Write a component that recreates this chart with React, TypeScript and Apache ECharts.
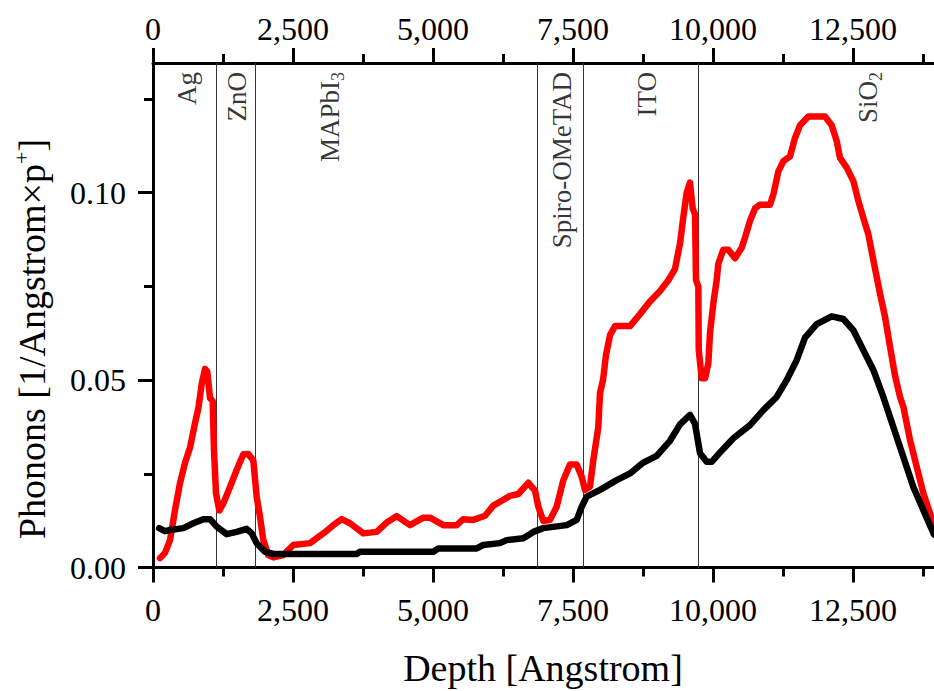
import React, { useEffect, useRef } from "react";
import * as echarts from "echarts";

// ---- axis extents & ticks ----
const X_MAX = 13946;
const Y_MAX = 0.1346;
const xMajorTicks = [0, 2500, 5000, 7500, 10000, 12500];
const xMinorTicks = [1250, 3750, 6250, 8750, 11250, 13750];
const yMajorTicks = [0, 0.05, 0.1];
const yMinorTicks = [0.025, 0.075, 0.125];

// ---- layer boundaries (Angstrom) ----
const boundaries = [1125, 1827, 6863, 7684, 9740];

// ---- layer labels: [centre depth, name, subscript] ----
const layerDepths = [607, 1494, 3155, 7298, 8816, 12759];
const layerNames = ["Ag", "ZnO", "MAPbI", "Spiro-OMeTAD", "ITO", "SiO"];
const layerSubs = ["", "", "3", "", "", "2"];
const LABEL_TOP = 0.1322;

// ---- red series (depth, phonons) ----
const redDepth = [
  125, 214, 304, 393, 482, 571, 661, 750, 810, 870, 929, 970, 1018, 1066, 1089, 1125, 1184,
  1256, 1375, 1494, 1613, 1702, 1792, 1851, 1911, 1970, 2060, 2149, 2327, 2506, 2804, 3041,
  3220, 3369, 3518, 3756, 3994, 4173, 4351, 4589, 4827, 4946, 5184, 5423, 5541, 5720, 5929,
  6077, 6226, 6375, 6523, 6702, 6821, 6881, 6970, 7089, 7208, 7327, 7446, 7566, 7655, 7714,
  7804, 7863, 7952, 7982, 8036, 8089, 8161, 8250, 8518, 8696, 8875, 9054, 9196, 9321, 9411,
  9470, 9530, 9589, 9637, 9679, 9696, 9738, 9745, 9798, 9857, 9917, 9946, 10006, 10066, 10095,
  10185, 10274, 10393, 10512, 10571, 10661, 10750, 10839, 11018, 11077, 11167, 11256, 11375,
  11464, 11554, 11702, 12000, 12119, 12208, 12268, 12387, 12506, 12595, 12684, 12774, 12863,
  12982, 13071, 13161, 13250, 13339, 13399, 13518, 13637, 13756, 13875, 13946,
];
const redValue = [
  0.0025, 0.0039, 0.0073, 0.0153, 0.0225, 0.0279, 0.032, 0.0385, 0.0425, 0.049, 0.053, 0.0522,
  0.0452, 0.0444, 0.0313, 0.0198, 0.0152, 0.0171, 0.0215, 0.026, 0.0302, 0.0303, 0.0285, 0.0189,
  0.0135, 0.0073, 0.0033, 0.0027, 0.0033, 0.006, 0.0065, 0.0091, 0.0113, 0.0129, 0.0118, 0.0091,
  0.0095, 0.012, 0.0137, 0.0113, 0.0133, 0.0133, 0.0113, 0.0113, 0.0129, 0.0127, 0.0138, 0.0165,
  0.0178, 0.0191, 0.0196, 0.0226, 0.0205, 0.0162, 0.0124, 0.0127, 0.0162, 0.0233, 0.0275, 0.0275,
  0.0242, 0.0207, 0.0216, 0.0287, 0.0375, 0.0465, 0.05, 0.0567, 0.062, 0.0644, 0.0644, 0.0676,
  0.071, 0.0738, 0.0765, 0.0797, 0.0865, 0.0935, 0.1, 0.1027, 0.0958, 0.0942, 0.0767, 0.0749,
  0.058, 0.0505, 0.0505, 0.0545, 0.0625, 0.0705, 0.0767, 0.0811, 0.0848, 0.0848, 0.0825, 0.0853,
  0.088, 0.0925, 0.0958, 0.0968, 0.0968, 0.0995, 0.1057, 0.1084, 0.1097, 0.1146, 0.118, 0.1203,
  0.1203, 0.118, 0.1138, 0.1093, 0.1067, 0.1031, 0.0978, 0.0933, 0.0889, 0.082, 0.0731, 0.0669,
  0.0589, 0.0512, 0.0455, 0.0429, 0.034, 0.0269, 0.0198, 0.0145, 0.0105,
];

// ---- black series (depth, phonons) ----
const blackDepth = [
  110, 214, 304, 542, 720, 899, 1018, 1137, 1315, 1494, 1673, 1762, 1851, 2000, 2149, 3637, 3696,
  5006, 5095, 5780, 5898, 6196, 6315, 6613, 6792, 6970, 7387, 7566, 7655, 7744, 7982, 8280, 8518,
  8756, 8994, 9232, 9411, 9589, 9679, 9768, 9887, 9977, 10125, 10363, 10661, 10899, 11137, 11315,
  11494, 11643, 11851, 12119, 12327, 12506, 12684, 12863, 13041, 13220, 13399, 13577, 13756, 13946,
];
const blackValue = [
  0.0105, 0.0097, 0.01, 0.0105, 0.0118, 0.0129, 0.0129, 0.0109, 0.0089, 0.0095, 0.0103, 0.0091,
  0.0065, 0.0042, 0.0036, 0.0036, 0.0042, 0.0042, 0.0051, 0.0051, 0.006, 0.0065, 0.0073, 0.0078,
  0.0095, 0.0105, 0.0113, 0.0127, 0.0162, 0.0189, 0.0207, 0.0233, 0.0251, 0.028, 0.0298, 0.0338,
  0.0382, 0.0407, 0.0383, 0.0305, 0.0282, 0.0282, 0.0307, 0.0345, 0.038, 0.042, 0.0455, 0.05,
  0.0553, 0.0613, 0.0649, 0.067, 0.0663, 0.0633, 0.058, 0.0527, 0.0455, 0.0375, 0.0295, 0.0215,
  0.0153, 0.0088,
];

const FONT = "'Liberation Serif', 'Times New Roman', serif";

export default function App() {
  const ref = useRef<HTMLDivElement>(null);

  useEffect(() => {
    if (!ref.current) return;
    const chart = echarts.init(ref.current, null, { renderer: "svg" });

    const redData = redDepth.map((d, i) => [d, redValue[i]]);
    const blackData = blackDepth.map((d, i) => [d, blackValue[i]]);
    const labelData = layerDepths.map((d, i) => ({
      value: [d, LABEL_TOP],
      name: layerNames[i],
      sub: layerSubs[i],
    }));

    const axisLineStyle = { color: "#000", width: 3 };
    const fmtX = (v: number) => v.toLocaleString("en-US");

    const xBase = {
      type: "value",
      min: 0,
      max: X_MAX,
      splitLine: { show: false },
    };
    const yBase = {
      type: "value",
      min: 0,
      max: Y_MAX,
      splitLine: { show: false },
    };
    const labelStyle = { fontSize: 32, fontFamily: FONT, color: "#000" };

    chart.setOption({
      animation: false,
      backgroundColor: "#fff",
      grid: { left: 153, right: 0, top: 63, bottom: 123.5, containLabel: false },
      xAxis: [
        {
          ...xBase,
          position: "bottom",
          axisLine: { show: true, onZero: false, lineStyle: axisLineStyle },
          axisTick: { show: true, inside: false, length: 15, lineStyle: axisLineStyle, customValues: xMajorTicks },
          axisLabel: { ...labelStyle, margin: 26, formatter: fmtX, customValues: xMajorTicks },
        },
        {
          ...xBase,
          position: "bottom",
          axisLine: { show: false, onZero: false },
          axisTick: { show: true, inside: false, length: 9, lineStyle: axisLineStyle, customValues: xMinorTicks },
          axisLabel: { show: false },
        },
        {
          ...xBase,
          position: "top",
          axisLine: { show: true, onZero: false, lineStyle: axisLineStyle },
          axisTick: { show: true, inside: false, length: 15, lineStyle: axisLineStyle, customValues: xMajorTicks },
          axisLabel: { ...labelStyle, margin: 18, formatter: fmtX, customValues: xMajorTicks },
        },
        {
          ...xBase,
          position: "top",
          axisLine: { show: false, onZero: false },
          axisTick: { show: true, inside: false, length: 9, lineStyle: axisLineStyle, customValues: xMinorTicks },
          axisLabel: { show: false },
        },
      ],
      yAxis: [
        {
          ...yBase,
          position: "left",
          axisLine: { show: true, onZero: false, lineStyle: axisLineStyle },
          axisTick: { show: true, inside: false, length: 15, lineStyle: axisLineStyle, customValues: yMajorTicks },
          axisLabel: {
            ...labelStyle,
            margin: 27,
            formatter: (v: number) => v.toFixed(2),
            customValues: yMajorTicks,
          },
        },
        {
          ...yBase,
          position: "left",
          axisLine: { show: false, onZero: false },
          axisTick: { show: true, inside: false, length: 9, lineStyle: axisLineStyle, customValues: yMinorTicks },
          axisLabel: { show: false },
        },
      ],
      series: [
        {
          type: "line",
          name: "red",
          data: redData,
          xAxisIndex: 0,
          yAxisIndex: 0,
          showSymbol: false,
          symbol: "none",
          z: 3,
          lineStyle: { color: "#ff0000", width: 6.5, cap: "round", join: "round" },
          markLine: {
            silent: true,
            symbol: "none",
            label: { show: false },
            lineStyle: { color: "#333", width: 1, type: "solid" },
            data: boundaries.map((b) => ({ xAxis: b })),
            z: 1,
          },
        },
        {
          type: "line",
          name: "black",
          data: blackData,
          xAxisIndex: 0,
          yAxisIndex: 0,
          showSymbol: false,
          symbol: "none",
          z: 4,
          lineStyle: { color: "#000000", width: 6.5, cap: "round", join: "round" },
        },
        {
          type: "scatter",
          name: "layers",
          data: labelData,
          xAxisIndex: 0,
          yAxisIndex: 0,
          symbolSize: 0,
          silent: true,
          z: 5,
          label: {
            show: true,
            position: "inside",
            rotate: 90,
            align: "right",
            verticalAlign: "middle",
            formatter: (p: any) =>
              p.data.sub ? `{a|${p.data.name}}{b|${p.data.sub}}` : `{a|${p.data.name}}`,
            rich: {
              a: { fontSize: 27, fontFamily: FONT, color: "#000", lineHeight: 34, verticalAlign: "middle" },
              b: { fontSize: 18, fontFamily: FONT, color: "#000", lineHeight: 18, verticalAlign: "bottom" },
            },
          },
        },
      ],
      graphic: [
        {
          type: "text",
          x: 543,
          y: 668,
          style: {
            text: "Depth [Angstrom]",
            font: `38px ${FONT}`,
            fill: "#000",
            align: "center",
            verticalAlign: "middle",
          },
        },
        {
          type: "text",
          x: 32,
          y: 339,
          rotation: Math.PI / 2,
          style: {
            text: "{a|Phonons [1/Angstrom×p}{s|+}{a|]}",
            align: "center",
            verticalAlign: "middle",
            rich: {
              a: { fontSize: 38, fontFamily: FONT, fill: "#000", lineHeight: 44, verticalAlign: "middle" },
              s: { fontSize: 22, fontFamily: FONT, fill: "#000", lineHeight: 22, verticalAlign: "top" },
            },
          },
        },
      ],
    });

    return () => chart.dispose();
  }, []);

  return (
    <div
      ref={ref}
      style={{ position: "absolute", left: 0, top: 0, width: 934, height: 691, background: "#fff" }}
    />
  );
}
